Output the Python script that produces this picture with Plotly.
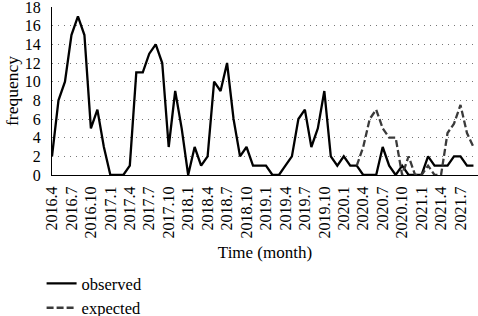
import plotly.graph_objects as go

months = []
for y in range(2016, 2022):
    for m in range(1, 13):
        if (y == 2016 and m < 4) or (y == 2021 and m > 9):
            continue
        months.append(f"{y}.{m}")

observed = [2, 8, 10, 15, 17, 15, 5, 7, 3,
            0, 0, 0, 1, 11, 11, 13, 14, 12, 3, 9, 5,
            0, 3, 1, 2, 10, 9, 12, 6, 2, 3, 1, 1,
            1, 0, 0, 1, 2, 6, 7, 3, 5, 9, 2, 1,
            2, 1, 1, 0, 0, 0, 3, 1, 0, 1, 0, 0,
            0, 2, 1, 1, 1, 2, 2, 1, 1]

expected = [None] * 47 + [1, 3, 6, 7, 5, 4, 4, 0, 2, 0,
                          0, 1, 0, 0, 4.5, 5.5, 7.5, 4.5, 3]

tick_idx = list(range(0, len(months), 3))
tick_labels = [months[i] for i in tick_idx]
x = list(range(len(months)))

FONT = "Liberation Serif, Times New Roman, serif"

fig = go.Figure()
fig.add_trace(go.Scatter(x=x, y=observed, mode="lines", name="observed",
                         line=dict(color="black", width=2.3)))
fig.add_trace(go.Scatter(x=x, y=expected, mode="lines", name="expected",
                         line=dict(color="#3a3a3a", width=2.3, dash="7px,3px")))

fig.update_layout(
    width=478, height=316,
    margin=dict(l=52, r=0, t=7, b=141, autoexpand=False),
    paper_bgcolor="white", plot_bgcolor="white",
    font=dict(family=FONT, size=16, color="black"),
    showlegend=True,
    legend=dict(orientation="v", xref="container", yref="container",
                x=0.087, y=0.158, xanchor="left", yanchor="top",
                font=dict(family=FONT, size=16.5, color="black"),
                bgcolor="rgba(0,0,0,0)", tracegroupgap=0),
    xaxis=dict(range=[0, 65.7], tickmode="array", tickvals=tick_idx,
               ticktext=tick_labels, tickangle=-90, showgrid=False,
               showline=True, linecolor="black", linewidth=1, ticks="",
               zeroline=False, automargin=False, ticklabelstandoff=4,
               tickfont=dict(family=FONT, size=16),
               title=dict(text="Time (month)", font=dict(family=FONT, size=17),
                          standoff=8)),
    yaxis=dict(range=[0, 18], dtick=2, showgrid=True, gridcolor="#777",
               griddash="1px,5px", gridwidth=1,
               showline=True, linecolor="black", linewidth=1, ticks="",
               zeroline=False, automargin=False, ticklabelstandoff=7,
               ticklabeloverflow="allow",
               tickfont=dict(family=FONT, size=16)),
    annotations=[dict(text="frequency", textangle=-90, xref="paper", yref="paper",
                      x=-40 / 426, y=0.5, xanchor="center", yanchor="middle",
                      showarrow=False, font=dict(family=FONT, size=17.5))],
)

fig.write_html("out.html", config={"displayModeBar": False},
               post_script="document.body.style.margin='0';document.body.style.overflow='hidden';")
